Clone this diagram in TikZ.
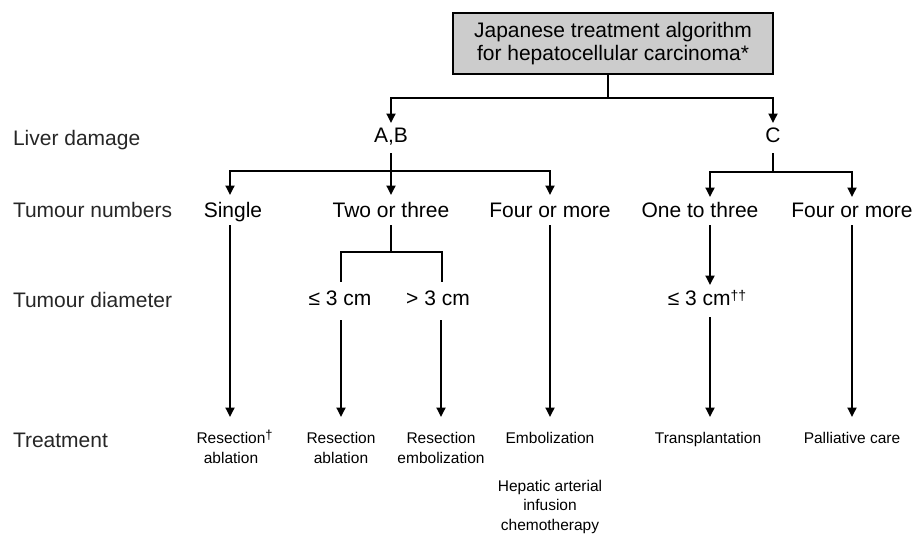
\documentclass[tikz,border=0pt]{standalone}
\usepackage{fontspec}
\setmainfont{Liberation Sans}
\usetikzlibrary{arrows.meta}
\begin{document}
\begin{tikzpicture}[x=1pt,y=-1pt,
  big/.style={font=\fontsize{21}{23}\selectfont, inner sep=0pt, outer sep=0pt, text height=15pt, text depth=0pt, anchor=center},
  side/.style={big, anchor=west, text=black!85},
  small/.style={font=\fontsize{15.5}{19.5}\selectfont, inner sep=0pt, outer sep=0pt, align=center, anchor=north},
  ln/.style={line width=1.8pt},
  arr/.style={ln, -{Triangle[width=9pt,length=9.5pt]}},
  topbox/.style={draw, line width=1.5pt, fill=black!20, minimum width=320pt, minimum height=61pt, align=center, font=\fontsize{21}{23}\selectfont, inner sep=0pt}
]
\useasboundingbox (0,0) rectangle (916,533);

% title box
\node[topbox] (box) at (613,43.5) {Japanese treatment algorithm\\for hepatocellular carcinoma*};

% row labels
\node[side] (liver) at (13,138) {Liver damage};
\node[side] (nums) at (13,210) {Tumour numbers};
\node[side] (diam) at (13,300) {Tumour diameter};
\node[side] (treat) at (13,440) {Treatment};

% liver damage
\node[big] (ab) at (391,135) {A,B};
\node[big] (c) at (773,135) {C};

% tumour numbers
\node[big] (single) at (233,210) {Single};
\node[big] (two) at (391,210) {Two or three};
\node[big] (four1) at (550,210) {Four or more};
\node[big] (one3) at (700,210) {One to three};
\node[big] (four2) at (852,210) {Four or more};

% tumour diameter
\node[big] (le1) at (340,298) {≤ 3 cm};
\node[big] (gt) at (438,298) {> 3 cm};
\node[big] (le2) at (707,298) {≤ 3 cm\raisebox{5pt}{\fontsize{14}{14}\selectfont ††}};

% treatment
\node[small] (r1) at (231,432.5) {Resection\rlap{\smash{\raisebox{4.5pt}{\fontsize{13}{13}\selectfont †}}}\\ablation};
\node[small] (r2) at (341,432.5) {Resection\\ablation};
\node[small] (r3) at (441,432.5) {Resection\\embolization};
\node[small] (r4) at (550,432.5) {Embolization};
\node[small] (r5) at (708,432.5) {Transplantation};
\node[small] (r6) at (852,432.5) {Palliative care};
\node[small] (hep) at (550,480) {Hepatic arterial\\infusion\\chemotherapy};

% connectors: top
\draw[ln] ([xshift=-5pt]box.south) -- ++(0,23.5) coordinate (j0);
\draw[arr, shorten >=4.5pt] (j0) -| (ab.north);
\draw[arr, shorten >=4.5pt] (j0) -| (c.north);

% A,B branch
\draw[ln, shorten <=10.5pt] (ab.south) -- ++(0,28.5) coordinate (j1);
\draw[arr, shorten >=7.5pt] (j1) -| ([xshift=-3pt]single.north);
\draw[arr, shorten >=7.5pt] (j1) -- (two.north);
\draw[arr, shorten >=7.5pt] (j1) -| (four1.north);

% C branch
\draw[ln, shorten <=10.5pt] (c.south) -- ++(0,29.5) coordinate (j2);
\draw[arr, shorten >=5.5pt] (j2) -| ([xshift=10pt]one3.north);
\draw[arr, shorten >=5.5pt] (j2) -| (four2.north);

% two or three split
\draw[ln, shorten <=7.5pt] (two.south) -- ++(0,34.5) coordinate (j3);
\draw[ln, shorten >=8.5pt] (j3) -| ([xshift=1pt]le1.north);
\draw[ln, shorten >=8.5pt] (j3) -| ([xshift=4pt]gt.north);

% to treatments
\draw[arr, shorten <=7.5pt, shorten >=15.5pt] ([xshift=-3pt]single.south) -- ([xshift=-1pt]r1.north);
\draw[arr, shorten <=14.5pt, shorten >=15.5pt] ([xshift=1pt]le1.south) -- (r2.north);
\draw[arr, shorten <=14.5pt, shorten >=15.5pt] ([xshift=3pt]gt.south) -- (r3.north);
\draw[arr, shorten <=7.5pt, shorten >=15.5pt] (four1.south) -- (r4.north);
\draw[arr, shorten <=7.5pt, shorten >=5.5pt] ([xshift=10pt]one3.south) -- ([xshift=3pt]le2.north);
\draw[arr, shorten <=11.5pt, shorten >=15.5pt] ([xshift=3pt]le2.south) -- ([xshift=2pt]r5.north);
\draw[arr, shorten <=7.5pt, shorten >=15.5pt] (four2.south) -- (r6.north);
\end{tikzpicture}
\end{document}
